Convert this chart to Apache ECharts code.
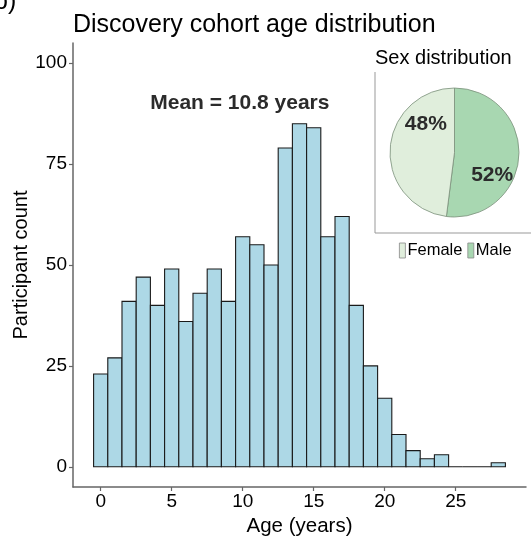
<!DOCTYPE html>
<html><head><meta charset="utf-8">
<script src="https://cdn.jsdelivr.net/npm/echarts@6/dist/echarts.min.js"></script>
<style>html,body{margin:0;padding:0;background:#fff}#c{width:531px;height:538px}</style>
</head><body><div id="c"></div>
<script>
// ---- data ----
const ages = [0,1,2,3,4,5,6,7,8,9,10,11,12,13,14,15,16,17,18,19,20,21,22,23,24,25,26,27,28];
const counts = [23,27,41,47,40,49,36,43,49,41,57,55,50,79,85,84,57,62,40,25,17,8,4,2,3,0,0,0,1];
const xTicks = [0,5,10,15,20,25];
const yTicks = [0,25,50,75,100];
const sexCategories = ['Female','Male'];
const sexPercent = [48,52];
const meanAge = 10.8;

const FONT = '"Liberation Sans", Arial, Helvetica, sans-serif';
const chart = echarts.init(document.getElementById('c'), null, {renderer:'canvas'});

const histData = ages.map((a,i)=>[a, counts[i]]);
const sexColors = {Female:'#e0eedc', Male:'#a8d7b1'};
// pie drawn clockwise from 12 o'clock starting with Male
const pieData = sexCategories.map((n,i)=>({name:n, value:sexPercent[i], itemStyle:{color:sexColors[n]}})).reverse();

const option = {
  animation:false,
  backgroundColor:'#fff',
  textStyle:{fontFamily:FONT},
  title:[
    {text:'Discovery cohort age distribution', left:73, top:13, padding:0,
     textStyle:{fontFamily:FONT, fontSize:25, fontWeight:'normal', color:'#000'}},
    {text:'Sex distribution', left:375, top:48, padding:0,
     textStyle:{fontFamily:FONT, fontSize:20, fontWeight:'normal', color:'#000'}}
  ],
  legend:{
    data:sexCategories, left:399, top:242, itemWidth:6, itemHeight:15, itemGap:5,
    icon:'rect', padding:0,
    itemStyle:{borderColor:'#888', borderWidth:0.8},
    textStyle:{fontFamily:FONT, fontSize:16.5, color:'#000', padding:[0,0,0,-3]},
    selectedMode:false
  },
  grid:{left:73, right:5, top:43, bottom:51, containLabel:false, outerBoundsMode:'none'},
  xAxis:{
    type:'value', min:-1.95, max:29.95,
    name:'Age (years)', nameLocation:'middle', nameGap:28,
    nameTextStyle:{fontFamily:FONT, fontSize:20.5, color:'#000'},
    axisLine:{show:true, onZero:false, lineStyle:{color:'#666', width:1.5}},
    axisTick:{show:true, length:4, lineStyle:{color:'#666', width:1.2}, customValues:xTicks},
    axisLabel:{fontFamily:FONT, fontSize:19, color:'#000', margin:5, customValues:xTicks},
    splitLine:{show:false}
  },
  yAxis:{
    type:'value', min:-5, max:105,
    name:'Participant count', nameLocation:'middle', nameGap:42, nameRotate:90,
    nameMoveOverlap:false,
    nameTextStyle:{fontFamily:FONT, fontSize:20, color:'#000'},
    axisLine:{show:true, onZero:false, lineStyle:{color:'#666', width:1.5}},
    axisTick:{show:true, length:4, lineStyle:{color:'#666', width:1.2}, customValues:yTicks},
    axisLabel:{fontFamily:FONT, fontSize:19, color:'#000', margin:6, customValues:yTicks},
    splitLine:{show:false}
  },
  series:[
    {
      type:'custom', data:histData, clip:false,
      renderItem:function(params, api){
        const x = api.value(0), y = api.value(1);
        const p0 = api.coord([x-0.5, y]);
        const p1 = api.coord([x+0.5, 0]);
        return {type:'rect',
          shape:{x:p0[0], y:p0[1], width:p1[0]-p0[0], height:p1[1]-p0[1]},
          style:{fill:'#add8e6', stroke:'#1a1a1a', lineWidth:1.1}};
      }
    },
    {
      type:'scatter', data:[[9.8, 90]], symbolSize:0, silent:true,
      itemStyle:{opacity:1},
      label:{show:true, position:'inside', formatter:'Mean = ' + meanAge + ' years', opacity:1,
        fontFamily:FONT, fontSize:21, fontWeight:'bold', color:'#2b2b2b'},
      emphasis:{disabled:true}
    },
    {
      type:'pie', center:[454.5,152.5], radius:[0,64.5], startAngle:90, clockwise:true,
      data:pieData,
      itemStyle:{borderColor:'#7a8f7a', borderWidth:0.8},
      label:{show:true, position:'inside', formatter:function(p){return p.value+'%';},
        fontFamily:FONT, fontSize:21, fontWeight:'bold', color:'#2b2b2b'},
      labelLine:{show:false},
      emphasis:{disabled:true},
      labelLayout:function(p){
        return p.dataIndex===0 ? {dx:2.5, dy:20.5} : {dx:6.5, dy:-26.5};
      }
    }
  ],
  graphic:[
    {type:'text', x:-6, y:2,
     style:{text:'b)', font:'25px ' + FONT, fill:'#000', align:'left', verticalAlign:'middle'}},
    {type:'line', shape:{x1:375, y1:72, x2:375, y2:233}, style:{stroke:'#999', lineWidth:1}},
    {type:'line', shape:{x1:375, y1:233, x2:531, y2:233}, style:{stroke:'#999', lineWidth:1}}
  ]
};
chart.setOption(option);
</script></body></html>
